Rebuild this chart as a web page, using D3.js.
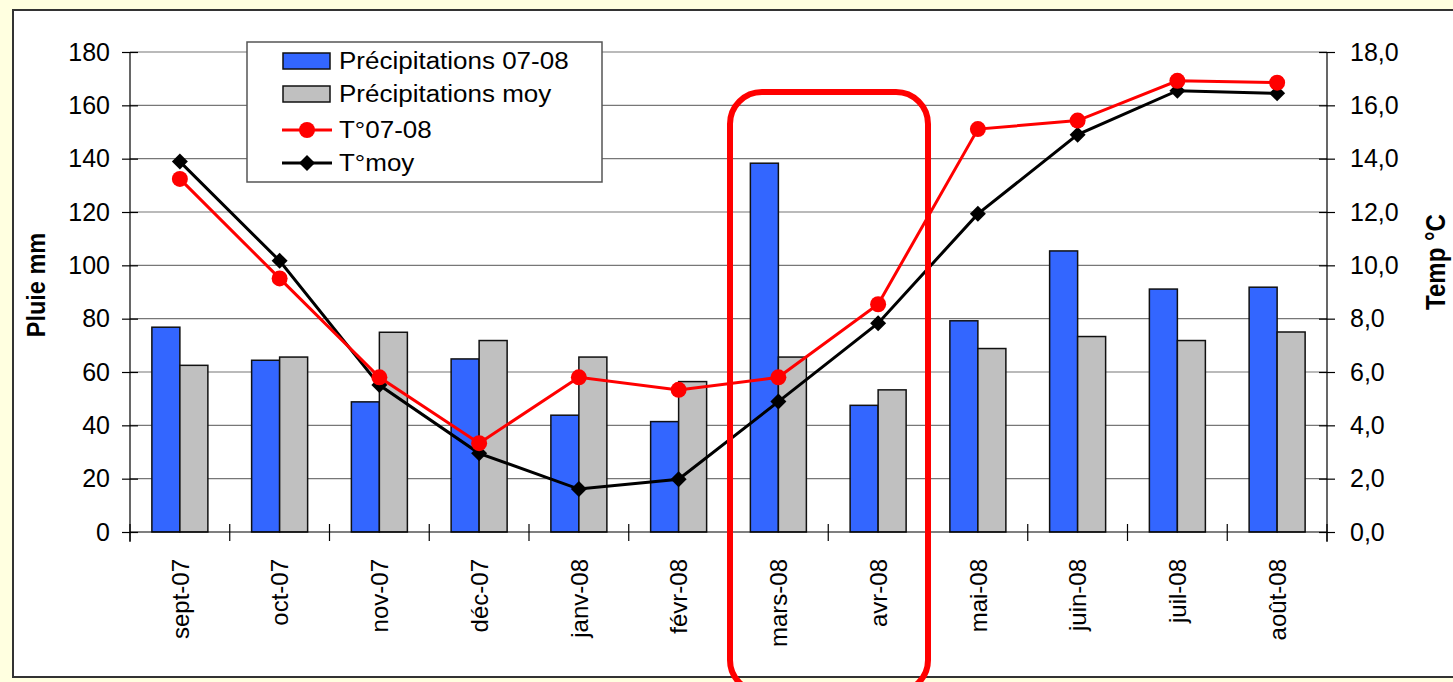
<!DOCTYPE html>
<html>
<head>
<meta charset="utf-8">
<script src="https://cdn.jsdelivr.net/npm/d3@7"></script>
<style>
  html, body { margin: 0; padding: 0; background: #FFFFE0; }
  svg { display: block; }
  text { font-family: "Liberation Sans", Arial, sans-serif; fill: #000; }
</style>
</head>
<body>
<svg id="chart" width="1453" height="682"></svg>
<script>
// ---------- data ----------
const months = ["sept-07","oct-07","nov-07","déc-07","janv-08","févr-08","mars-08","avr-08","mai-08","juin-08","juil-08","août-08"];
const precip0708 = [76.8, 64.4, 48.8, 64.9, 43.8, 41.4, 138.3, 47.5, 79.2, 105.4, 91.1, 91.8];
const precipMoy  = [62.5, 65.6, 74.9, 71.8, 65.6, 56.4, 65.6, 53.3, 68.8, 73.3, 71.8, 75.0];
const temp0708   = [13.24, 9.51, 5.80, 3.33, 5.80, 5.33, 5.80, 8.54, 15.11, 15.43, 16.92, 16.85];
const tempMoy    = [13.89, 10.17, 5.51, 2.95, 1.61, 1.98, 4.89, 7.83, 11.93, 14.90, 16.55, 16.45];
const rainTicks  = [0, 20, 40, 60, 80, 100, 120, 140, 160, 180];
const tempTicks  = [0, 2, 4, 6, 8, 10, 12, 14, 16, 18];
const seriesNames = ["Précipitations 07-08", "Précipitations moy", "T°07-08", "T°moy"];

// ---------- layout ----------
const W = 1453, H = 682;
const L = 130, R = 1327, T = 52, B = 532;
const svg = d3.select("#chart");

// white frame
svg.append("rect").attr("x", 13).attr("y", 10).attr("width", 1460).attr("height", 667)
  .attr("fill", "#fff").attr("stroke", "#333").attr("stroke-width", 2);

const x = d3.scaleBand().domain(months).range([L, R]).paddingInner(0).paddingOuter(0);
const sub = d3.scaleBand().domain(["p", "m"]).range([-28, 28]);
const yRain = d3.scaleLinear().domain([0, 180]).range([B, T]);
const yTemp = d3.scaleLinear().domain([0, 18]).range([B, T]);

// gridlines
svg.append("g").selectAll("line").data(rainTicks.slice(1)).join("line")
  .attr("x1", L).attr("x2", R)
  .attr("y1", d => yRain(d)).attr("y2", d => yRain(d))
  .attr("stroke", "#777").attr("stroke-width", 1.2);

// bars
const barG = svg.append("g");
const cx = m => x(m) + x.bandwidth() / 2;
barG.selectAll("rect.p").data(months).join("rect")
  .attr("x", (m) => cx(m) + sub("p")).attr("width", sub.bandwidth())
  .attr("y", (m, i) => yRain(precip0708[i])).attr("height", (m, i) => B - yRain(precip0708[i]))
  .attr("fill", "#3366FF").attr("stroke", "#111").attr("stroke-width", 1.5);
barG.selectAll("rect.m").data(months).join("rect")
  .attr("x", (m) => cx(m) + sub("m")).attr("width", sub.bandwidth())
  .attr("y", (m, i) => yRain(precipMoy[i])).attr("height", (m, i) => B - yRain(precipMoy[i]))
  .attr("fill", "#C0C0C0").attr("stroke", "#111").attr("stroke-width", 1.5);

// axes
const tickLen = 8;
const axL = d3.axisLeft(yRain).tickValues(rainTicks).tickSize(tickLen).tickPadding(12).tickFormat(d3.format("d"));
const gL = svg.append("g").attr("transform", `translate(${L},0)`).call(axL);
const axR = d3.axisRight(yTemp).tickValues(tempTicks).tickSize(tickLen).tickPadding(15).tickFormat(d => d.toFixed(1).replace(".", ","));
const gR = svg.append("g").attr("transform", `translate(${R},0)`).call(axR);
[gL, gR].forEach(g => {
  g.select(".domain").attr("stroke", "#000").attr("stroke-width", 1.2);
  g.selectAll(".tick line").attr("stroke", "#000").attr("stroke-width", 1.2);
  g.selectAll(".tick text").attr("font-size", 25).attr("font-family", "Liberation Sans, Arial, sans-serif").attr("fill", "#000");
});
// ticks crossing through the axis
gL.selectAll(".tick line").attr("x1", tickLen).attr("x2", -tickLen);
gR.selectAll(".tick line").attr("x1", -tickLen).attr("x2", tickLen);
gL.select(".domain").attr("d", `M0,${B + 10}V${T}`);
gR.select(".domain").attr("d", `M0,${B + 10}V${T}`);

// x axis
const gX = svg.append("g").attr("transform", `translate(0,${B})`);
gX.append("line").attr("x1", L).attr("x2", R).attr("stroke", "#000").attr("stroke-width", 1.2);
const bounds = months.map(m => x(m)).concat([R]);
gX.selectAll("line.tk").data(bounds).join("line")
  .attr("x1", d => d).attr("x2", d => d).attr("y1", -8).attr("y2", 9)
  .attr("stroke", "#000").attr("stroke-width", 1.2);
gX.selectAll("text").data(months).join("text")
  .attr("transform", m => `translate(${cx(m)},27) rotate(-90)`)
  .attr("text-anchor", "end").attr("dy", "0.36em")
  .attr("font-size", 24).text(m => m);

// lines
const lineT = (arr) => d3.line().x((d, i) => cx(months[i])).y(d => yTemp(d))(arr);
svg.append("path").attr("d", lineT(tempMoy)).attr("fill", "none").attr("stroke", "#000").attr("stroke-width", 3);
svg.append("path").attr("d", lineT(temp0708)).attr("fill", "none").attr("stroke", "#FF0000").attr("stroke-width", 3);
const diamond = d3.symbol().type(d3.symbolSquare).size(128);
svg.append("g").selectAll("path").data(tempMoy).join("path")
  .attr("d", diamond)
  .attr("transform", (d, i) => `translate(${cx(months[i])},${yTemp(d)}) rotate(45)`)
  .attr("fill", "#000");
svg.append("g").selectAll("circle").data(temp0708).join("circle")
  .attr("cx", (d, i) => cx(months[i])).attr("cy", d => yTemp(d)).attr("r", 8)
  .attr("fill", "#FF0000");

// axis titles
svg.append("text").attr("transform", "translate(45,285) scale(1.12,1) rotate(-90)")
  .attr("text-anchor", "middle").attr("font-size", 23.5).attr("font-weight", "bold").text("Pluie mm");
svg.append("text").attr("transform", "translate(1445,262) scale(1.12,1) rotate(-90)")
  .attr("text-anchor", "middle").attr("font-size", 24).attr("font-weight", "bold").text("Temp °C");

// legend
const lg = svg.append("g");
lg.append("rect").attr("x", 247).attr("y", 42).attr("width", 355).attr("height", 140)
  .attr("fill", "#fff").attr("stroke", "#555").attr("stroke-width", 1.5);
const rowY = [61, 94, 130, 163];
lg.append("rect").attr("x", 283).attr("y", rowY[0] - 8).attr("width", 47).attr("height", 16)
  .attr("fill", "#3366FF").attr("stroke", "#111").attr("stroke-width", 1.5);
lg.append("rect").attr("x", 283).attr("y", rowY[1] - 8).attr("width", 47).attr("height", 16)
  .attr("fill", "#C0C0C0").attr("stroke", "#111").attr("stroke-width", 1.5);
lg.append("line").attr("x1", 282).attr("x2", 332).attr("y1", rowY[2]).attr("y2", rowY[2]).attr("stroke", "#FF0000").attr("stroke-width", 3);
lg.append("circle").attr("cx", 307).attr("cy", rowY[2]).attr("r", 8).attr("fill", "#FF0000");
lg.append("line").attr("x1", 282).attr("x2", 332).attr("y1", rowY[3]).attr("y2", rowY[3]).attr("stroke", "#000").attr("stroke-width", 3);
lg.append("path").attr("d", diamond).attr("transform", `translate(307,${rowY[3]}) rotate(45)`).attr("fill", "#000");
lg.selectAll("text").data(seriesNames).join("text")
  .attr("transform", (d, i) => `translate(339,${rowY[i]}) scale(1.13,1)`)
  .attr("dy", "0.36em").attr("font-size", 23).text(d => d);

// red highlight box
svg.append("rect").attr("x", 730).attr("y", 92).attr("width", 198).attr("height", 600)
  .attr("rx", 32).attr("ry", 32)
  .attr("fill", "none").attr("stroke", "#FF0000").attr("stroke-width", 6);
</script>
</body>
</html>
